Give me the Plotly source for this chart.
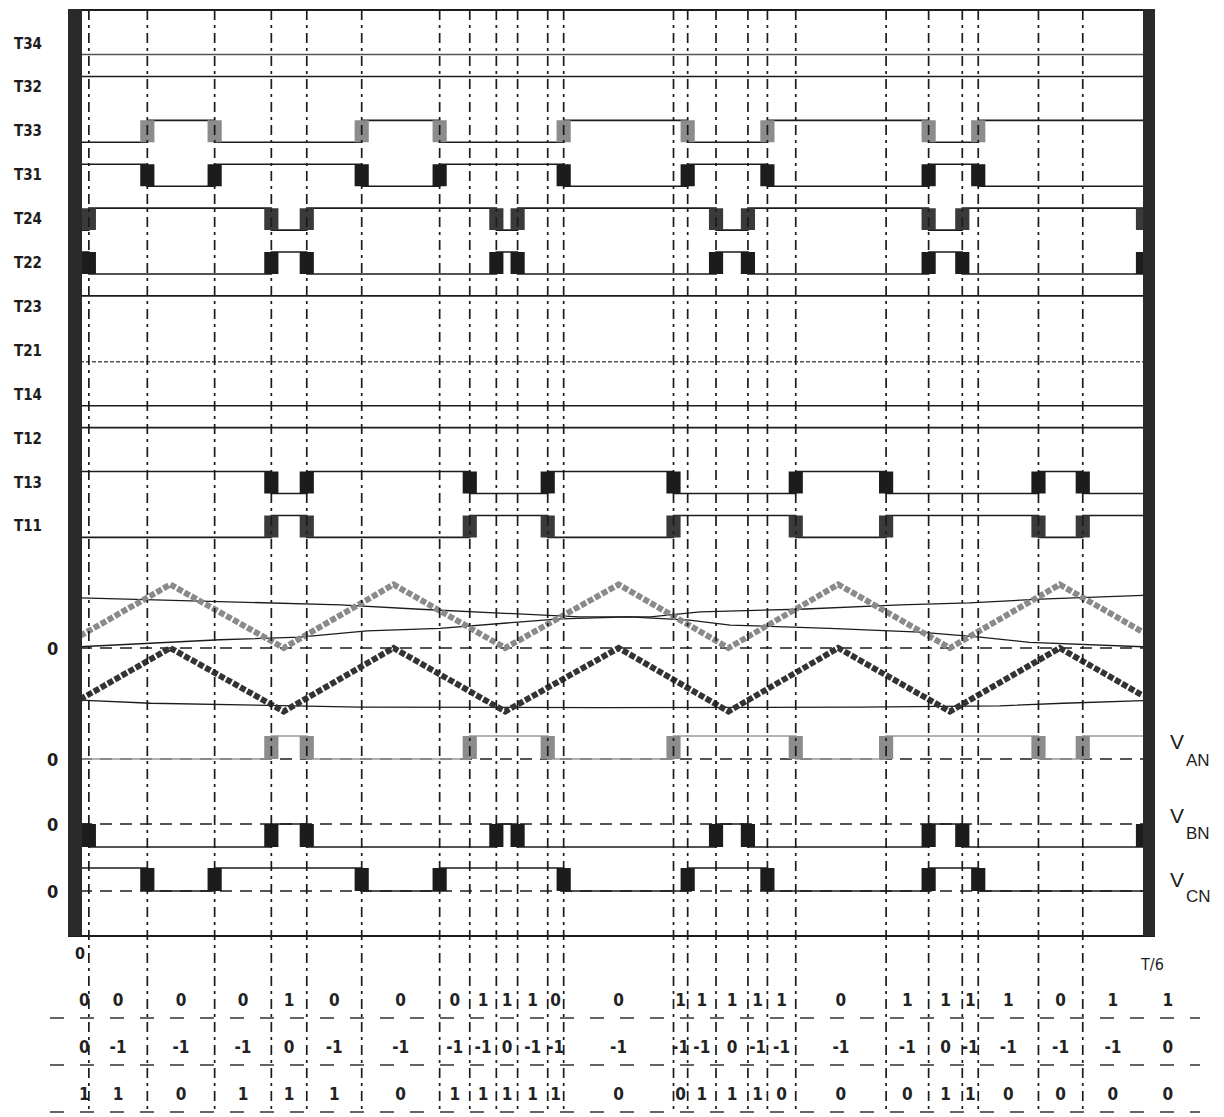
import plotly.graph_objects as go

# ---------------- data ----------------
# switching instants inside one T/6 interval, in electrical degrees (T/6 = 60 deg)
switch_deg = [0.5, 3.8, 7.6, 10.8, 12.8, 15.9, 20.3, 22.0, 23.5, 24.7, 26.4, 27.3,
              33.5, 34.3, 35.9, 37.7, 38.8, 40.4, 45.5, 47.9, 49.8, 50.7, 54.1, 56.6]
T6 = 60.0

# phase output levels per interval (25 intervals inside T/6 + the first one after it)
level_A = [0, 0, 0, 0, 1, 0, 0, 0, 1, 1, 1, 0, 0, 1, 1, 1, 1, 1, 0, 1, 1, 1, 1, 0, 1, 1]
level_B = [0, -1, -1, -1, 0, -1, -1, -1, -1, 0, -1, -1, -1, -1, -1, 0, -1, -1, -1, -1, 0, -1, -1, -1, -1, 0]
level_C = [1, 1, 0, 1, 1, 1, 0, 1, 1, 1, 1, 1, 0, 0, 1, 1, 1, 0, 0, 0, 1, 1, 0, 0, 0, 0]

gate_names = ["T34", "T32", "T33", "T31", "T24", "T22", "T23", "T21", "T14", "T12", "T13", "T11"]

# triangular carriers (vertices), normalised modulation units
carrier_t = [0, 5.1, 11.5, 17.7, 24.0, 30.4, 36.6, 42.8, 49.1, 55.3, 60]
carrier_hi = [0.19, 1, 0, 1, 0, 1, 0, 1, 0, 1, 0.25]
carrier_lo = [-0.81, 0, -1, 0, -1, 0, -1, 0, -1, 0, -0.75]

# modulating references
ref_a_t = [0, 6.8, 14.7, 19.2, 23.7, 28.2, 32.2, 35.0, 40.6, 46.3, 50.2, 54.2, 60]
ref_a_v = [0.79, 0.74, 0.68, 0.61, 0.55, 0.49, 0.49, 0.57, 0.61, 0.68, 0.71, 0.77, 0.83]
ref_b_t = [0, 4.5, 7.9, 12.4, 16.2, 20.3, 23.7, 27.1, 31.0, 34.4, 36.7, 42.3, 47.4, 50.8, 53.6, 57.6, 60]
ref_b_v = [0.02, 0.08, 0.13, 0.17, 0.27, 0.31, 0.39, 0.46, 0.49, 0.44, 0.36, 0.31, 0.25, 0.17, 0.09, 0.05, 0.02]
ref_c_t = [0, 4.0, 15.8, 29.3, 44.0, 51.9, 55.5, 60]
ref_c_v = [-0.82, -0.87, -0.93, -0.94, -0.93, -0.91, -0.87, -0.83]

# ---------------- layout constants ----------------
PAGE_W, PAGE_H = 1224, 1117
OFF = 8                      # page body margin: the figure starts 8 px in
W, H = PAGE_W - OFF, PAGE_H - OFF
X0_PX, X60_PX = 80.0, 1143.0
PX_PER_DEG = (X60_PX - X0_PX) / T6


def px2deg(px):
    return (px - X0_PX) / PX_PER_DEG


GATE_TOP_PX, GATE_PITCH_PX = 43.5, 43.9     # gate row centres
GATE_SWING = 0.25                           # half swing in row units
MOD_ZERO_PX, MOD_UNIT_PX = 648.0, 63.5
V_ZERO_PX, V_UNIT_PX = 759.0, 23.0
V_OFFSETS = {"AN": 0.0, "BN": -(824 - 759) / 23.0, "CN": -(891 - 759) / 23.0}
HALF_BLOCK = 0.4

INK = "#1c1c1c"
GRAY = "#8c8c8c"
NARROW = "Liberation Sans Narrow, Arial Narrow, DejaVu Sans Condensed, sans-serif"
SANS = "Liberation Sans, Arial, sans-serif"

bounds = [0.0] + switch_deg + [T6]
n_int = len(bounds) - 1

# gate states derived from phase levels
gate_states = {
    "T34": [0] * len(level_C),
    "T32": [1] * len(level_C),
    "T33": [1 if v == 0 else 0 for v in level_C],
    "T31": [1 if v == 1 else 0 for v in level_C],
    "T24": [1 if v == -1 else 0 for v in level_B],
    "T22": [1 if v == 0 else 0 for v in level_B],
    "T23": [1] * len(level_B),
    "T21": [0] * len(level_B),
    "T14": [0] * len(level_A),
    "T12": [1] * len(level_A),
    "T13": [1 if v == 0 else 0 for v in level_A],
    "T11": [1 if v == 1 else 0 for v in level_A],
}
block_color = {"T33": GRAY, "T31": INK, "T24": "#3a3a3a", "T22": INK,
               "T13": INK, "T11": "#3a3a3a"}


def step_xy(values, fy):
    xs, ys = [], []
    for i in range(n_int):
        y = fy(values[i])
        xs += [bounds[i], bounds[i + 1]]
        ys += [y, y]
    return xs, ys


def block_xy(values, y_a, y_b):
    xs, ys = [], []
    for i in range(len(values) - 1):
        if values[i] != values[i + 1]:
            t = bounds[i + 1]
            xs += [t - HALF_BLOCK, t + HALF_BLOCK, t + HALF_BLOCK, t - HALF_BLOCK, t - HALF_BLOCK, None]
            ys += [y_a, y_a, y_b, y_b, y_a, None]
    return xs, ys


fig = go.Figure()

# ---- vertical dashed switching lines (frame axis, px units) ----
vx, vy = [], []
for t in switch_deg:
    vx += [t, t, None]
    vy += [10, 1112, None]
fig.add_trace(go.Scatter(x=vx, y=vy, yaxis="y4", mode="lines",
                         line=dict(color=INK, width=1.7, dash="10px,5px,3px,5px"), hoverinfo="skip"))

# ---- gate rows ----
for k, name in enumerate(gate_names):
    st = gate_states[name]
    xs, ys = step_xy(st, lambda s, k=k: k + GATE_SWING - 2 * GATE_SWING * s)
    dash = "4px,2px" if name == "T21" else "solid"
    col = "#555" if name in ("T21", "T34") else INK
    fig.add_trace(go.Scatter(x=xs, y=ys, mode="lines", line=dict(color=col, width=1.6, dash=dash),
                             hoverinfo="skip"))
    if name in block_color:
        bx, by = block_xy(st, k - GATE_SWING, k + GATE_SWING)
        if bx:
            fig.add_trace(go.Scatter(x=bx, y=by, mode="lines", fill="toself",
                                     fillcolor=block_color[name], line=dict(width=0, color=block_color[name]),
                                     hoverinfo="skip"))

# ---- modulation region ----
fig.add_trace(go.Scatter(x=[0, T6], y=[0, 0], yaxis="y2", mode="lines",
                         line=dict(color=INK, width=1.5, dash="12px,8px"), hoverinfo="skip"))
for tt, vv in ((ref_a_t, ref_a_v), (ref_b_t, ref_b_v), (ref_c_t, ref_c_v)):
    fig.add_trace(go.Scatter(x=tt, y=vv, yaxis="y2", mode="lines",
                             line=dict(color=INK, width=1.3), hoverinfo="skip"))
fig.add_trace(go.Scatter(x=carrier_t, y=carrier_hi, yaxis="y2", mode="lines",
                         line=dict(color="#8a8a8a", width=6, dash="6px,2px"), hoverinfo="skip"))
fig.add_trace(go.Scatter(x=carrier_t, y=carrier_lo, yaxis="y2", mode="lines",
                         line=dict(color="#333333", width=6, dash="6px,2px"), hoverinfo="skip"))

# ---- phase voltages ----
for key, lev, col, bcol in (("AN", level_A, "#9a9a9a", GRAY),
                            ("BN", level_B, INK, INK),
                            ("CN", level_C, INK, INK)):
    off = V_OFFSETS[key]
    fig.add_trace(go.Scatter(x=[0, T6], y=[off, off], yaxis="y3", mode="lines",
                             line=dict(color=INK, width=1.4, dash="12px,8px"), hoverinfo="skip"))
    xs, ys = step_xy(lev, lambda v, off=off: off + v)
    fig.add_trace(go.Scatter(x=xs, y=ys, yaxis="y3", mode="lines",
                             line=dict(color=col, width=1.6), hoverinfo="skip"))
    nz = [v for v in lev if v != 0][0]
    bx, by = block_xy(lev, off, off + nz)
    fig.add_trace(go.Scatter(x=bx, y=by, yaxis="y3", mode="lines", fill="toself",
                             fillcolor=bcol, line=dict(width=0, color=bcol), hoverinfo="skip"))

# ---- frame: top/bottom lines and thick side bars ----
fig.add_trace(go.Scatter(x=[px2deg(68), px2deg(1155), None, px2deg(68), px2deg(1155)],
                         y=[10, 10, None, 936, 936], yaxis="y4", mode="lines",
                         line=dict(color=INK, width=2), hoverinfo="skip"))
for x_a, x_b in ((68, 82), (1143, 1155)):
    fig.add_trace(go.Scatter(x=[px2deg(x_a), px2deg(x_b), px2deg(x_b), px2deg(x_a), px2deg(x_a)],
                             y=[9, 9, 936, 936, 9], yaxis="y4", mode="lines", fill="toself",
                             fillcolor="#2a2a2a", line=dict(width=0, color="#2a2a2a"), hoverinfo="skip"))

# ---- table of switching states ----
mids = [(bounds[i] + bounds[i + 1]) / 2 for i in range(n_int)] + [T6 + 1.4]
row_px = [1002, 1049, 1096]
for lev, ypx in zip((level_A, level_B, level_C), row_px):
    fig.add_trace(go.Scatter(x=mids, y=[ypx] * len(mids), yaxis="y4", mode="text",
                             text=[str(v) for v in lev],
                             textfont=dict(family=NARROW, size=17, color="#222", weight="bold"),
                             hoverinfo="skip"))
    fig.add_trace(go.Scatter(x=[px2deg(50), px2deg(1200)], y=[ypx + 16, ypx + 16], yaxis="y4",
                             mode="lines", line=dict(color="#333", width=1.5, dash="14px,16px"),
                             hoverinfo="skip"))

# ---- labels ----
ann = []
for k, name in enumerate(gate_names):
    ann.append(dict(x=px2deg(28), y=k, xref="x", yref="y", text="<b>%s</b>" % name,
                    showarrow=False, font=dict(family=NARROW, size=15, color=INK)))
for yref, yv in (("y2", 0), ("y3", V_OFFSETS["AN"]), ("y3", V_OFFSETS["BN"]), ("y3", V_OFFSETS["CN"])):
    ann.append(dict(x=px2deg(52), y=yv, xref="x", yref=yref, text="<b>0</b>", showarrow=False,
                    font=dict(family=NARROW, size=18, color=INK)))
for key, vpx, spx in (("AN", 741, 760), ("BN", 815, 833), ("CN", 879, 896)):
    ann.append(dict(x=px2deg(1177), y=vpx, xref="x", yref="y4", text="V", showarrow=False,
                    font=dict(family=SANS, size=21, color=INK)))
    ann.append(dict(x=px2deg(1198), y=spx, xref="x", yref="y4", text=key, showarrow=False,
                    font=dict(family=SANS, size=17, color=INK)))
ann.append(dict(x=0, y=953, xref="x", yref="y4", text="<b>0</b>", showarrow=False,
                font=dict(family=NARROW, size=16, color=INK)))
ann.append(dict(x=T6 + 0.5, y=964, xref="x", yref="y4", text="T/6", showarrow=False,
                font=dict(family=NARROW, size=16, color=INK)))

fig.update_layout(
    width=W, height=H, margin=dict(l=0, r=0, t=0, b=0),
    paper_bgcolor="white", plot_bgcolor="white", showlegend=False,
    xaxis=dict(range=[px2deg(OFF), px2deg(PAGE_W)], visible=False),
    yaxis=dict(range=[(PAGE_H - GATE_TOP_PX) / GATE_PITCH_PX, (OFF - GATE_TOP_PX) / GATE_PITCH_PX],
               visible=False),
    yaxis2=dict(range=[(MOD_ZERO_PX - PAGE_H) / MOD_UNIT_PX, (MOD_ZERO_PX - OFF) / MOD_UNIT_PX],
                overlaying="y", visible=False),
    yaxis3=dict(range=[(V_ZERO_PX - PAGE_H) / V_UNIT_PX, (V_ZERO_PX - OFF) / V_UNIT_PX],
                overlaying="y", visible=False),
    yaxis4=dict(range=[PAGE_H, OFF], overlaying="y", visible=False),
    annotations=ann,
)

fig.write_html("out.html")
